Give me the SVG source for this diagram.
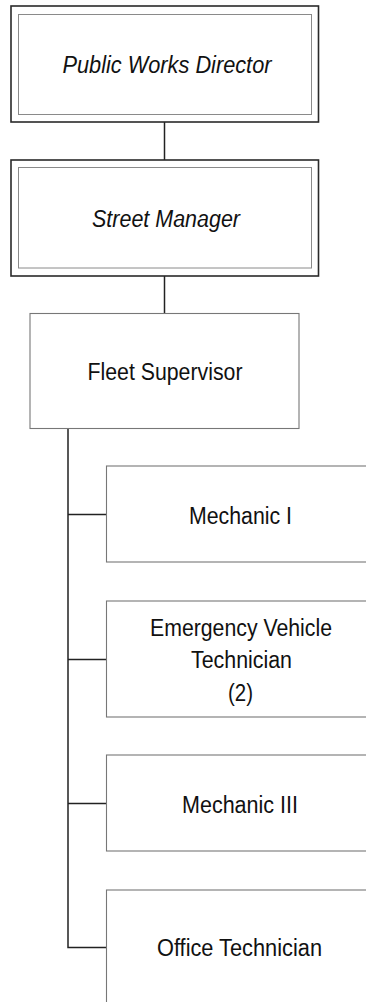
<svg xmlns="http://www.w3.org/2000/svg" width="366" height="1002" viewBox="0 0 366 1002">
<style>
.outer{fill:none;stroke:#2a2a2a;stroke-width:1.6}
.inner{fill:none;stroke:#8a8a8a;stroke-width:1}
.box{fill:#fff;stroke:#777;stroke-width:1.1}
.conn{fill:none;stroke:#222;stroke-width:1.5}
text{font-family:"Liberation Sans",Arial,sans-serif;font-size:23px;fill:#111;text-anchor:middle}
.it{font-style:italic}
</style>
<rect width="366" height="1002" fill="#fff"/>
<g id="connectors">
<line class="conn" x1="164.5" y1="122" x2="164.5" y2="160"/>
<line class="conn" x1="164.5" y1="276" x2="164.5" y2="313"/>
<polyline class="conn" points="68,428.5 68,947.5 106,947.5"/>
<line class="conn" x1="68" y1="514.5" x2="106" y2="514.5"/>
<line class="conn" x1="68" y1="659.5" x2="106" y2="659.5"/>
<line class="conn" x1="68" y1="803.5" x2="106" y2="803.5"/>
</g>
<g id="director">
<rect class="outer" x="11" y="6" width="307.5" height="116"/>
<rect class="inner" x="18.5" y="14.5" width="293" height="100"/>
<text class="it" x="167" y="72.5" textLength="209" lengthAdjust="spacingAndGlyphs">Public Works Director</text>
</g>
<g id="street-manager">
<rect class="outer" x="11" y="160" width="307.5" height="116"/>
<rect class="inner" x="18.5" y="167.5" width="293" height="100.5"/>
<text class="it" x="166" y="226.5" textLength="148" lengthAdjust="spacingAndGlyphs">Street Manager</text>
</g>
<g id="fleet-supervisor">
<rect class="box" x="30" y="313.5" width="269" height="115"/>
<text x="165" y="379.5" textLength="155" lengthAdjust="spacingAndGlyphs">Fleet Supervisor</text>
</g>
<g id="mechanic-1">
<rect class="box" x="106.5" y="466" width="270" height="96"/>
<text x="240.5" y="523.5" textLength="103" lengthAdjust="spacingAndGlyphs">Mechanic I</text>
</g>
<g id="ev-technician">
<rect class="box" x="106.5" y="601" width="270" height="116"/>
<text x="241" y="635.5" textLength="182" lengthAdjust="spacingAndGlyphs">Emergency Vehicle</text>
<text x="241.5" y="667.5" textLength="101" lengthAdjust="spacingAndGlyphs">Technician</text>
<text x="240.5" y="700.5" textLength="25" lengthAdjust="spacingAndGlyphs">(2)</text>
</g>
<g id="mechanic-3">
<rect class="box" x="106.5" y="755" width="270" height="96"/>
<text x="240" y="812.5" textLength="116" lengthAdjust="spacingAndGlyphs">Mechanic III</text>
</g>
<g id="office-technician">
<rect class="box" x="106.5" y="890" width="270" height="130"/>
<text x="239.5" y="955.5" textLength="165" lengthAdjust="spacingAndGlyphs">Office Technician</text>
</g>
</svg>
